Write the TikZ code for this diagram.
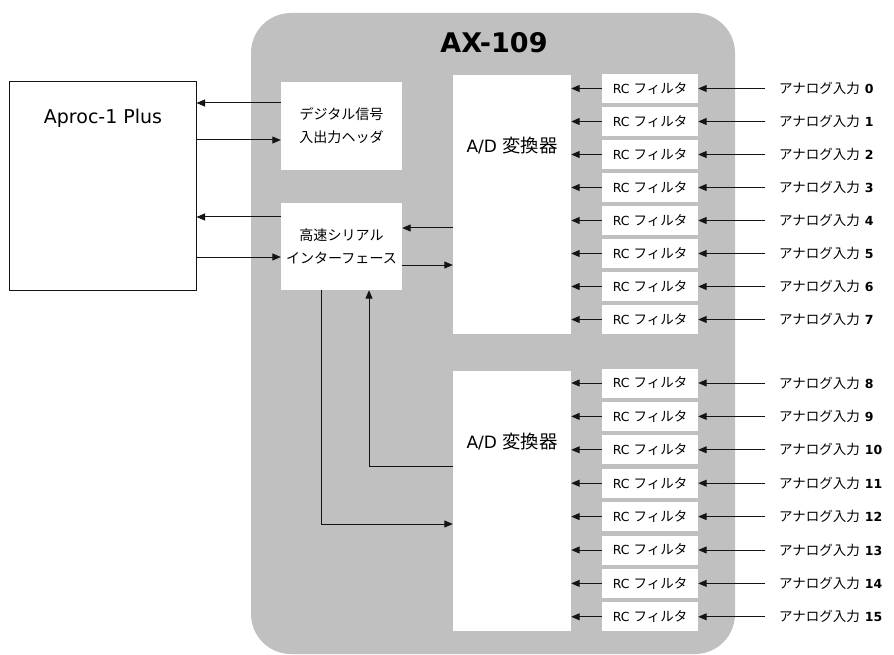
\documentclass[tikz,border=0pt]{standalone}
\usepackage{fontspec}
\setmainfont{DejaVu Sans}
\newfontfamily\jp[Scale=1.08]{Noto Sans CJK JP}
\usepackage{tikz}
\usetikzlibrary{
  arrows.meta,
  positioning
}
\definecolor{boardgray}{RGB}{192,192,192}
\definecolor{wireink}{RGB}{20,20,20}
\tikzset{
  board/.style={fill=boardgray,draw=none,rounded corners=40pt},
  hostbox/.style={draw=wireink,line width=1pt,fill=white,
    minimum width=187pt,minimum height=208pt,inner sep=0pt},
  blockbox/.style={fill=white,draw=none,inner sep=0pt,align=center,
    font=\fontsize{13}{23}\selectfont\jp},
  filterbox/.style={fill=white,draw=none,inner sep=0pt,
    minimum width=96pt,minimum height=29pt,
    font=\fontsize{12.5}{15}\selectfont},
  inlab/.style={anchor=west,inner xsep=14pt,inner ysep=0pt,
    font=\fontsize{12.5}{15}\selectfont},
  bigtext/.style={inner sep=0pt,font=\fontsize{17}{20}\selectfont},
  flow/.style={-{Triangle[length=8.5pt,width=7pt]},line width=1pt,draw=wireink}
}

\begin{document}
\begin{tikzpicture}[x=1pt,y=-1pt]
  \useasboundingbox (0,0) rectangle (894,655);
  % board
  \fill[board] (251,13) rectangle (735,654);
  \node[inner sep=0pt,font=\fontsize{27}{30}\selectfont\bfseries] (title) at (494,43) {AX-109};

  % host
  \node[hostbox] (aproc) at (102.5,186) {};
  \node[bigtext,font=\fontsize{19}{22}\selectfont] (aproctxt) at (103,118) {Aproc-1 Plus};

  % blocks on the board
  \node[blockbox,minimum width=121pt,minimum height=88pt] (dio) at (341.5,126)
    {デジタル信号\\入出力ヘッダ};
  \node[blockbox,minimum width=121pt,minimum height=87pt] (ser) at (341.5,246.5)
    {高速シリアル\\インターフェース};
  \node[blockbox,minimum width=118pt,minimum height=259pt] (adc1) at (512,204.5) {};
  \node[bigtext] (adc1txt) at (512,146) {A/D {\jp 変換器}};
  \node[blockbox,minimum width=118pt,minimum height=260pt] (adc2) at (512,501) {};
  \node[bigtext] (adc2txt) at (512,442) {A/D {\jp 変換器}};

  % filters and inputs
  \foreach \i in {0,...,7}{
    \node[filterbox] (rc\i) at (650,{88.5+33*\i}) {RC {\jp フィルタ}};
    \node[inlab] (in\i) at (765,{88.5+33*\i}) {{\jp アナログ入力}\hspace{5pt}\textbf{\i}};
    \draw[flow] (in\i.west) -- (rc\i.east);
    \draw[flow] (rc\i.west) -- (rc\i.west -| adc1.east);
  }
  \foreach \i in {8,...,15}{
    \node[filterbox] (rc\i) at (650,{383+33.4*(\i-8)}) {RC {\jp フィルタ}};
    \node[inlab] (in\i) at (765,{383+33.4*(\i-8)}) {{\jp アナログ入力}\hspace{5pt}\textbf{\i}};
    \draw[flow] (in\i.west) -- (rc\i.east);
    \draw[flow] (rc\i.west) -- (rc\i.west -| adc2.east);
  }

  % host links
  \draw[flow] ([yshift=23pt]dio.west) -- ([yshift=23pt]dio.west -| aproc.east);
  \draw[flow] ([yshift=-14pt]dio.west -| aproc.east) -- ([yshift=-14pt]dio.west);
  \draw[flow] ([yshift=29.5pt]ser.west) -- ([yshift=29.5pt]ser.west -| aproc.east);
  \draw[flow] ([yshift=-10.5pt]ser.west -| aproc.east) -- ([yshift=-10.5pt]ser.west);

  % serial links
  \draw[flow] ([yshift=18.5pt]ser.east -| adc1.west) -- ([yshift=18.5pt]ser.east);
  \draw[flow] ([yshift=-18.5pt]ser.east) -- ([yshift=-18.5pt]ser.east -| adc1.west);
  \draw[flow] ([xshift=-20.5pt]ser.south) |- ([yshift=-23pt]adc2.west);
  \draw[flow] ([yshift=35pt]adc2.west) -| ([xshift=27.5pt]ser.south);
\end{tikzpicture}
\end{document}
